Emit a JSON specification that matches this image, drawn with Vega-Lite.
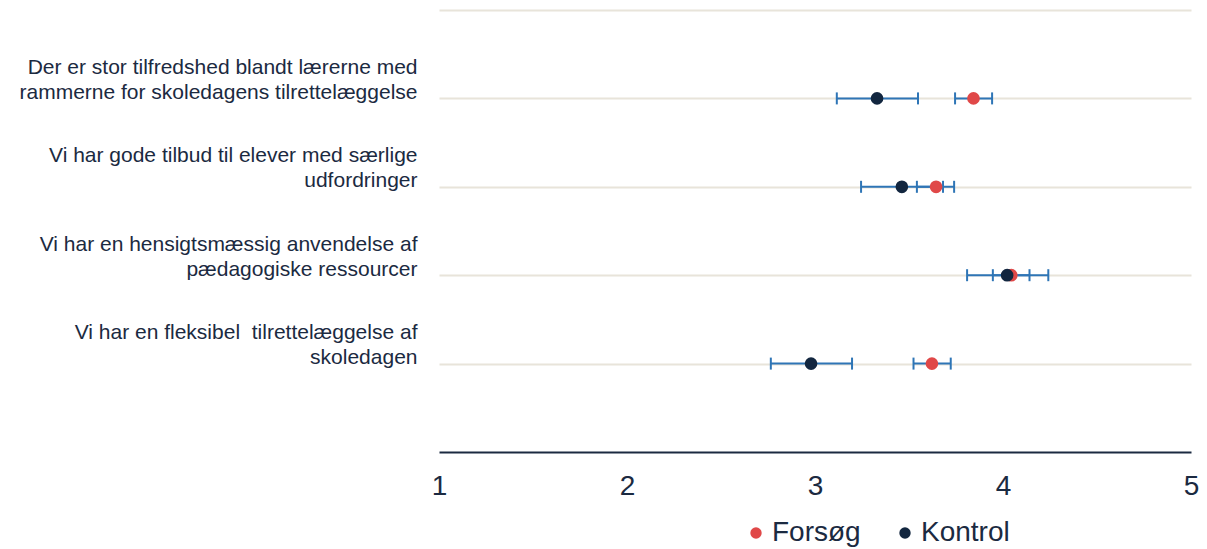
{
  "$schema": "https://vega.github.io/schema/vega-lite/v6.json",
  "autosize": "none",
  "width": 752,
  "height": 442,
  "padding": {"left": 439, "top": 10, "right": 16, "bottom": 97},
  "background": "white",
  "config": {
    "view": {"stroke": null},
    "font": "Liberation Sans"
  },
  "data": {
    "values": [
      {"question": "Der er stor tilfredshed blandt lærerne med|rammerne for skoledagens tilrettelæggelse", "group": "Kontrol", "mean": 3.33, "lo": 3.116, "hi": 3.548},
      {"question": "Der er stor tilfredshed blandt lærerne med|rammerne for skoledagens tilrettelæggelse", "group": "Forsøg", "mean": 3.843, "lo": 3.745, "hi": 3.942},
      {"question": "Vi har gode tilbud til elever med særlige|udfordringer", "group": "Kontrol", "mean": 3.462, "lo": 3.245, "hi": 3.681},
      {"question": "Vi har gode tilbud til elever med særlige|udfordringer", "group": "Forsøg", "mean": 3.644, "lo": 3.542, "hi": 3.74},
      {"question": "Vi har en hensigtsmæssig anvendelse af|pædagogiske ressourcer", "group": "Kontrol", "mean": 4.022, "lo": 3.809, "hi": 4.241},
      {"question": "Vi har en hensigtsmæssig anvendelse af|pædagogiske ressourcer", "group": "Forsøg", "mean": 4.044, "lo": 3.946, "hi": 4.141},
      {"question": "Vi har en fleksibel \u00a0tilrettelæggelse af|skoledagen", "group": "Kontrol", "mean": 2.979, "lo": 2.765, "hi": 3.197},
      {"question": "Vi har en fleksibel \u00a0tilrettelæggelse af|skoledagen", "group": "Forsøg", "mean": 3.622, "lo": 3.524, "hi": 3.722}
    ]
  },
  "encoding": {
    "y": {
      "field": "question",
      "type": "nominal",
      "sort": null,
      "scale": {"type": "point", "padding": 1},
      "axis": {
        "title": null,
        "domain": false,
        "ticks": false,
        "grid": true,
        "gridColor": "#E8E4DA",
        "gridWidth": 2,
        "labelExpr": "split(datum.label, '|')",
        "labelFontSize": 21,
        "labelLineHeight": 25,
        "labelColor": "#1B2A41",
        "labelAlign": "right",
        "labelBaseline": "alphabetic",
        "labelOffset": -25,
        "labelPadding": 22,
        "labelLimit": 500
      }
    }
  },
  "resolve": {"axis": {"x": "independent"}},
  "layer": [
    {
      "mark": {"type": "rule", "color": "#2E75B6", "strokeWidth": 2},
      "encoding": {
        "x": {
          "field": "lo",
          "type": "quantitative",
          "scale": {"domain": [1, 5], "nice": false, "zero": false},
          "axis": {
            "orient": "top",
            "title": null,
            "labels": false,
            "ticks": false,
            "grid": false,
            "domainColor": "#E8E4DA",
            "domainWidth": 2
          }
        },
        "x2": {"field": "hi"}
      }
    },
    {
      "mark": {"type": "point", "shape": "M0,-1L0,1", "filled": false, "color": "#2E75B6", "strokeWidth": 2, "size": 144, "opacity": 1},
      "encoding": {
        "x": {"field": "lo", "type": "quantitative", "axis": null}
      }
    },
    {
      "mark": {"type": "point", "shape": "M0,-1L0,1", "filled": false, "color": "#2E75B6", "strokeWidth": 2, "size": 144, "opacity": 1},
      "encoding": {
        "x": {"field": "hi", "type": "quantitative", "axis": null}
      }
    },
    {
      "mark": {"type": "circle", "size": 160, "opacity": 1},
      "encoding": {
        "x": {
          "field": "mean",
          "type": "quantitative",
          "axis": {
            "orient": "bottom",
            "title": null,
            "values": [1, 2, 3, 4, 5],
            "ticks": false,
            "grid": false,
            "domainColor": "#1B2A41",
            "domainWidth": 2,
            "labelFontSize": 28,
            "labelColor": "#1B2A41",
            "labelPadding": 20,
            "labelFlush": false
          }
        },
        "color": {
          "field": "group",
          "type": "nominal",
          "scale": {"domain": ["Forsøg", "Kontrol"], "range": ["#E04848", "#12263F"]},
          "legend": {
            "title": null,
            "orient": "none",
            "direction": "horizontal",
            "legendX": 303,
            "legendY": 509,
            "symbolType": "circle",
            "symbolSize": 130,
            "symbolOpacity": 1,
            "labelFontSize": 28,
            "labelColor": "#1B2A41",
            "labelOffset": 2,
            "columnPadding": 30
          }
        },
        "order": {"field": "group", "sort": "ascending"}
      }
    }
  ]
}
